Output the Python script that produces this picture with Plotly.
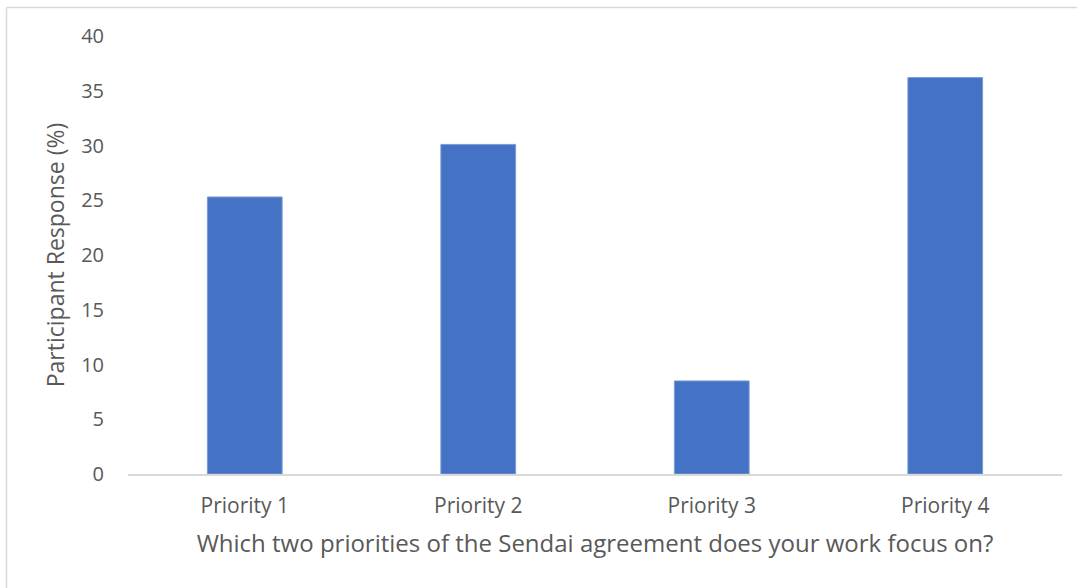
import plotly.graph_objects as go

categories = ["Priority 1", "Priority 2", "Priority 3", "Priority 4"]
responses = [25.3, 30.1, 8.5, 36.2]
y_ticks = [0, 5, 10, 15, 20, 25, 30, 35, 40]

W, H = 1077, 588
L, R, T, B = 128, 15, 36, 114
pw, ph = W - L - R, H - T - B

def px_x(x):
    return (x - L) / pw

def px_y(y):
    return (H - B - y) / ph

fig = go.Figure(
    go.Bar(
        x=categories,
        y=responses,
        marker=dict(color="#4472C4", line=dict(color="#7B9BD6", width=1)),
        hoverinfo="x+y",
    )
)

font_family = "Open Sans, Lato, sans-serif"
text_color = "#595959"

fig.update_layout(
    width=W,
    height=H,
    margin=dict(l=L, r=R, t=T, b=B),
    paper_bgcolor="white",
    plot_bgcolor="white",
    bargap=0.68,
    showlegend=False,
    font=dict(family=font_family, color=text_color, size=20),
    xaxis=dict(
        showline=True,
        linecolor="#D9D9D9",
        linewidth=1.5,
        ticks="",
        showgrid=False,
        ticklabelstandoff=12,
        tickfont=dict(size=21, color=text_color),
        title=dict(
            text="Which two priorities of the Sendai agreement does your work focus on?",
            font=dict(size=24, color=text_color),
            standoff=17,
        ),
    ),
    yaxis=dict(
        range=[0, 40],
        tickvals=y_ticks,
        showgrid=False,
        zeroline=False,
        showline=False,
        ticks="",
        ticklabelstandoff=23,
        tickfont=dict(size=20, color=text_color),
        title=dict(
            text="Participant Response (%)",
            font=dict(size=23, color=text_color),
            standoff=10,
        ),
    ),
    shapes=[
        dict(type="line", xref="paper", yref="paper",
             x0=px_x(6.5), x1=px_x(W), y0=px_y(7.5), y1=px_y(7.5),
             line=dict(color="#D9D9D9", width=1.5)),
        dict(type="line", xref="paper", yref="paper",
             x0=px_x(6.5), x1=px_x(6.5), y0=px_y(7.5), y1=px_y(H),
             line=dict(color="#D9D9D9", width=1.5)),
    ],
)

fig.write_html("out.html")
